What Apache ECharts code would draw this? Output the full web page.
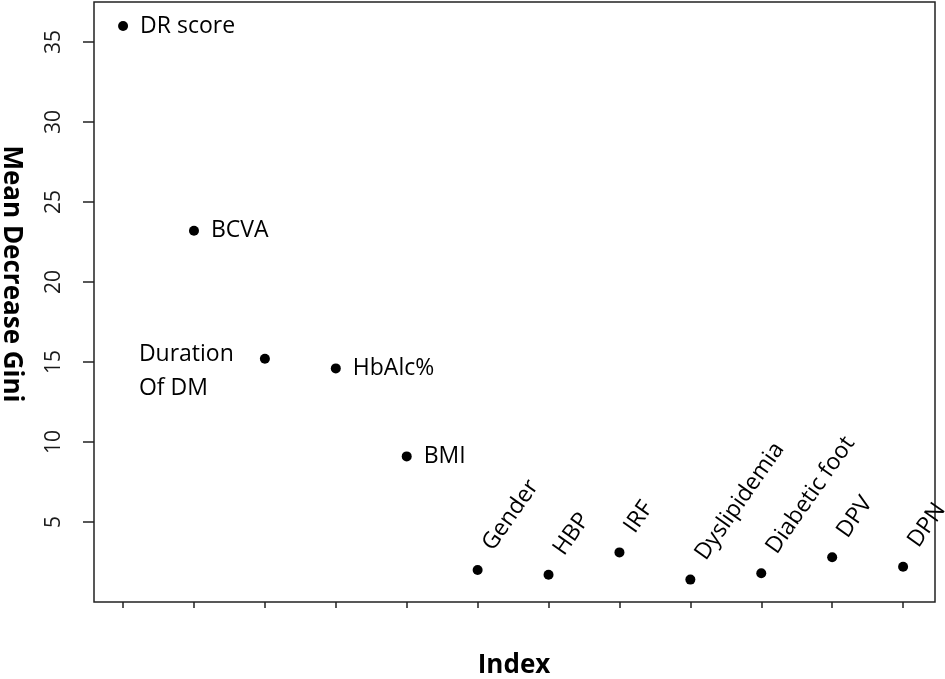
<!DOCTYPE html>
<html>
<head>
<meta charset="utf-8">
<script src="https://cdn.jsdelivr.net/npm/echarts@6/dist/echarts.min.js"></script>
<style>
  html, body { margin: 0; padding: 0; background: #fff; }
  #main { width: 945px; height: 679px; }
</style>
</head>
<body>
<div id="main"></div>
<script>
// variable names and their Mean Decrease Gini, in index order
var varNames = ['DR score', 'BCVA', 'Duration\nOf DM', 'HbAlc%', 'BMI', 'Gender', 'HBP', 'IRF',
    'Dyslipidemia', 'Diabetic foot', 'DPV', 'DPN'];
var giniVals = [36.0, 23.2, 15.2, 14.6, 9.1, 2.0, 1.7, 3.1, 1.4, 1.8, 2.8, 2.2];
var yTicks = [5, 10, 15, 20, 25, 30, 35];
var xTicks = [1, 2, 3, 4, 5, 6, 7, 8, 9, 10, 11, 12];

var chart = echarts.init(document.getElementById('main'));

// label placement per point
var pts = [];
for (var i = 0; i < giniVals.length; i++) {
    var lbl;
    if (i == 2) {
        // two-line label to the left of the point
        lbl = { position: [-121, -16], align: 'left', verticalAlign: 'top', lineHeight: 34 };
    } else if (i < 5) {
        lbl = { position: 'right', distance: 12, align: 'left', verticalAlign: 'middle' };
    } else {
        lbl = { position: [15, -17], align: 'left', verticalAlign: 'middle', rotate: 55 };
    }
    pts.push({ value: [i + 1, giniVals[i]], name: varNames[i], label: lbl });
}

var option = {
    animation: false,
    grid: {
        left: 94,
        right: 10,
        top: 2,
        bottom: 77,
        show: true,
        borderColor: '#222',
        borderWidth: 1.5,
        backgroundColor: 'transparent'
    },
    xAxis: {
        type: 'value',
        min: 0.59,
        max: 12.45,
        splitLine: { show: false },
        axisLine: { show: false },
        axisTick: { show: true, length: 6, customValues: xTicks, lineStyle: { color: '#222', width: 1.5 } },
        axisLabel: { show: false }
    },
    yAxis: {
        type: 'value',
        min: 0,
        max: 37.5,
        splitLine: { show: false },
        axisLine: { show: false },
        axisTick: { show: true, length: 11, customValues: yTicks, lineStyle: { color: '#222', width: 1.5 } },
        axisLabel: {
            customValues: yTicks,
            rotate: 90,
            margin: 29,
            fontSize: 21,
            fontFamily: 'Open Sans',
            color: '#1a1a1a'
        }
    },
    graphic: [
        {
            type: 'text',
            x: 11,
            y: 274,
            rotation: -Math.PI / 2,
            style: {
                text: 'Mean Decrease Gini',
                fontSize: 26,
                fontWeight: 'bold',
                fontFamily: 'Open Sans',
                fill: '#000',
                align: 'center',
                verticalAlign: 'middle'
            }
        },
        {
            type: 'text',
            x: 514,
            y: 666,
            style: {
                text: 'Index',
                fontSize: 26,
                fontWeight: 'bold',
                fontFamily: 'Open Sans',
                fill: '#000',
                align: 'center',
                verticalAlign: 'middle'
            }
        }
    ],
    series: [{
        type: 'scatter',
        symbol: 'circle',
        symbolSize: 10,
        itemStyle: { color: '#000', opacity: 1 },
        label: {
            show: true,
            formatter: '{b}',
            fontSize: 23,
            fontFamily: 'Open Sans',
            color: '#000'
        },
        data: pts
    }]
};
chart.setOption(option);
</script>
</body>
</html>
